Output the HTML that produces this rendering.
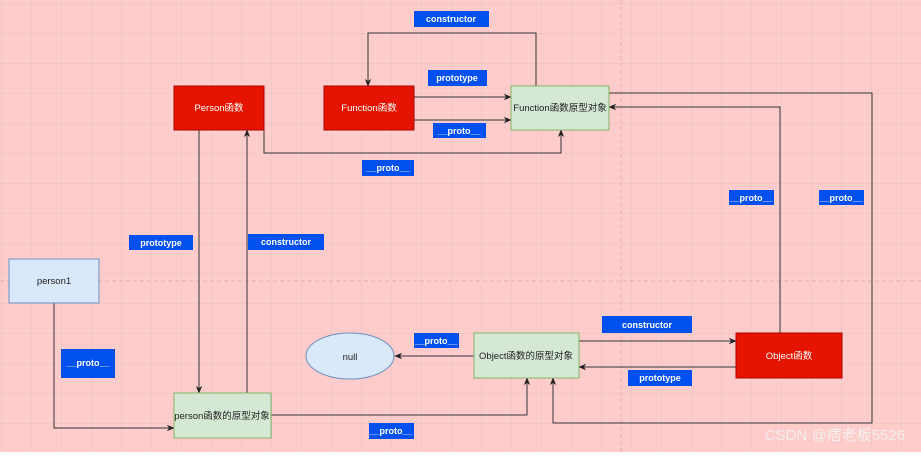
<!DOCTYPE html><html><head><meta charset="utf-8"><style>
body{margin:0;width:921px;height:452px;overflow:hidden;font-family:"Liberation Sans","Noto Sans CJK SC",sans-serif}
</style></head><body>
<svg width="921" height="452" xmlns="http://www.w3.org/2000/svg" font-family="Liberation Sans, Noto Sans CJK SC, sans-serif">
<defs>
<pattern id="g" x="1.5" y="3" width="30" height="30" patternUnits="userSpaceOnUse">
<path d="M0 0H30M0 0V30" stroke="#dfc3c5" stroke-width="1" fill="none"/>
</pattern>
<marker id="a" viewBox="0 0 10 10" refX="9" refY="5" markerWidth="8" markerHeight="8" orient="auto"><path d="M0 1L10 5L0 9L3 5Z" fill="#222"/></marker>
</defs>
<rect width="921" height="452" fill="#ffcccc"/>
<rect width="921" height="452" fill="url(#g)"/>
<line x1="0" y1="281" x2="921" y2="281" stroke="#e0b0b0" stroke-dasharray="4 3"/>
<line x1="621" y1="0" x2="621" y2="452" stroke="#e0b0b0" stroke-dasharray="4 3"/>
<g stroke="#333" stroke-width="1" fill="none" marker-end="url(#a)">
<path d="M536 86V33H368V86"/>
<path d="M414 97H511"/>
<path d="M414 120H511"/>
<path d="M264 130V153H561V130"/>
<path d="M199 130V393"/>
<path d="M247 393V130"/>
<path d="M54 303V428H174"/>
<path d="M271 415H527V378"/>
<path d="M474 356H395"/>
<path d="M579 341H736"/>
<path d="M736 367H579"/>
<path d="M780 333V107H609"/>
<path d="M609 93H872V423H553V378"/>
</g>
<g font-size="9.5" text-anchor="middle">
<rect x="174" y="86" width="90" height="44" fill="#e51400" stroke="#b20000"/><text x="219" y="111" fill="#fff">Person函数</text>
<rect x="324" y="86" width="90" height="44" fill="#e51400" stroke="#b20000"/><text x="369" y="111" fill="#fff">Function函数</text>
<rect x="511" y="86" width="98" height="44" fill="#d5e8d4" stroke="#82b366"/><text x="560" y="111" fill="#222">Function函数原型对象</text>
<rect x="9" y="259" width="90" height="44" fill="#dae8fc" stroke="#6c8ebf"/><text x="54" y="284" fill="#222">person1</text>
<rect x="174" y="393" width="97" height="45" fill="#d5e8d4" stroke="#82b366"/><text x="222" y="419" fill="#222">person函数的原型对象</text>
<ellipse cx="350" cy="356" rx="44" ry="23" fill="#dae8fc" stroke="#6c8ebf"/><text x="350" y="360" fill="#222">null</text>
<rect x="474" y="333" width="105" height="45" fill="#d5e8d4" stroke="#82b366"/><text x="526" y="359" fill="#222">Object函数的原型对象</text>
<rect x="736" y="333" width="106" height="45" fill="#e51400" stroke="#b20000"/><text x="789" y="359" fill="#fff">Object函数</text>
</g>
<g font-size="9" text-anchor="middle" fill="#fff" font-weight="bold">
<rect x="414" y="11" width="75" height="16" fill="#0050ef"/><text x="451" y="22">constructor</text>
<rect x="428" y="70" width="59" height="16" fill="#0050ef"/><text x="457" y="81">prototype</text>
<rect x="433" y="123" width="53" height="15" fill="#0050ef"/><text x="459" y="134">__proto__</text>
<rect x="362" y="160" width="52" height="16" fill="#0050ef"/><text x="388" y="171">__proto__</text>
<rect x="129" y="235" width="64" height="15" fill="#0050ef"/><text x="161" y="246">prototype</text>
<rect x="248" y="234" width="76" height="16" fill="#0050ef"/><text x="286" y="245">constructor</text>
<rect x="61" y="349" width="54" height="29" fill="#0050ef"/><text x="88" y="366">__proto__</text>
<rect x="729" y="190" width="45" height="15" fill="#0050ef"/><text x="751" y="201">__proto__</text>
<rect x="819" y="190" width="45" height="15" fill="#0050ef"/><text x="841" y="201">__proto__</text>
<rect x="414" y="333" width="45" height="15" fill="#0050ef"/><text x="436" y="344">__proto__</text>
<rect x="602" y="316" width="90" height="17" fill="#0050ef"/><text x="647" y="328">constructor</text>
<rect x="628" y="370" width="64" height="16" fill="#0050ef"/><text x="660" y="381">prototype</text>
<rect x="369" y="423" width="45" height="16" fill="#0050ef"/><text x="391" y="434">__proto__</text>
</g>
<text x="905" y="440" font-size="15" fill="#f4eeee" text-anchor="end">CSDN @痞老板5526</text>
</svg>
</body></html>
